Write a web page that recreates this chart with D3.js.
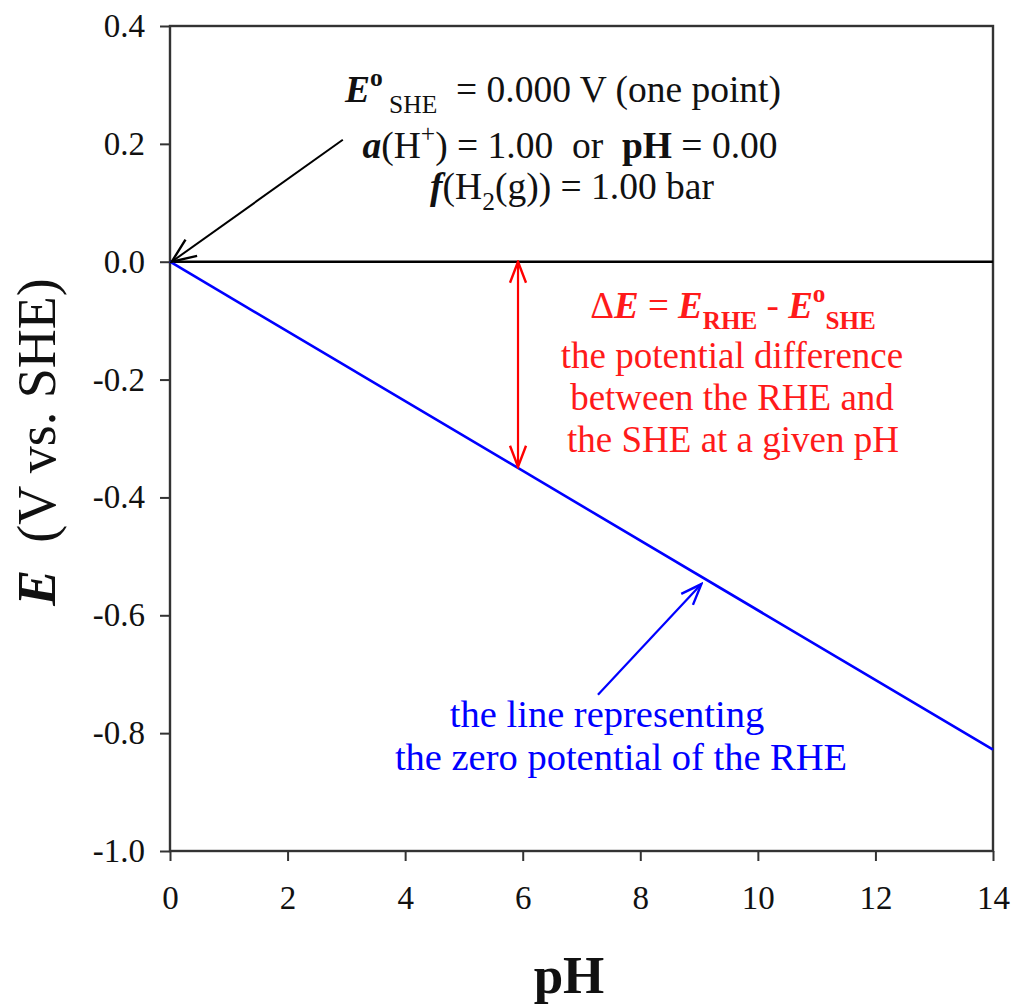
<!DOCTYPE html>
<html>
<head>
<meta charset="utf-8">
<script src="https://cdn.jsdelivr.net/npm/d3@7"></script>
<style>
  body { margin: 0; background: #fff; }
  text { font-family: "Liberation Serif", "Times New Roman", serif; white-space: pre; }
</style>
</head>
<body>
<svg id="chart" width="1015" height="1006"></svg>
<script>
// values
var phValues = [0, 14];
var rheValues = [0, -0.828];      // E of the RHE zero line (V vs SHE)
var sheValues = [0, 0];           // E of the SHE line
var xTicks = [0, 2, 4, 6, 8, 10, 12, 14];
var yTicks = [0.4, 0.2, 0.0, -0.2, -0.4, -0.6, -0.8, -1.0];
// annotation arrows in data units [pH, E]
var blackArrow = [[2.94, 0.207], [0.03, 0.0]];
var redArrow = [[5.92, 0.0], [5.92, -0.348]];
var blueArrow = [[7.28, -0.735], [9.04, -0.547]];

var margin = {left: 170, top: 26, right: 22, bottom: 155};
var W = 1015, H = 1006;
var svg = d3.select("#chart");

var x = d3.scaleLinear().domain([0, 14]).range([margin.left, W - margin.right]);
var y = d3.scaleLinear().domain([-1.0, 0.4]).range([H - margin.bottom, margin.top]);

var frame = "#333";

// arrow heads
var defs = svg.append("defs");
function head(id, color, len, half) {
    defs.append("marker")
        .attr("id", id)
        .attr("markerUnits", "userSpaceOnUse")
        .attr("viewBox", (-len - 2) + " " + (-half - 2) + " " + (len + 4) + " " + (2 * half + 4))
        .attr("refX", 0).attr("refY", 0)
        .attr("markerWidth", len + 4).attr("markerHeight", 2 * half + 4)
        .attr("orient", "auto-start-reverse")
        .append("path")
        .attr("d", "M" + (-len) + "," + (-half) + "L0,0L" + (-len) + "," + half)
        .attr("fill", "none").attr("stroke", color).attr("stroke-width", 2.4);
}
head("hBlack", "#000", 24, 10);
head("hRed", "#ff0000", 21, 8);
head("hBlue", "#0000ff", 21, 8);

// axes
var xAxis = d3.axisBottom(x).tickValues(xTicks).tickSize(10).tickPadding(25)
    .tickFormat(d3.format("d"));
var yAxis = d3.axisLeft(y).tickValues(yTicks).tickSize(10).tickPadding(15)
    .tickFormat(d3.format(".1f"));

var gx = svg.append("g").attr("transform", "translate(0," + y(-1.0) + ")").call(xAxis);
var gy = svg.append("g").attr("transform", "translate(" + x(0) + ",0)").call(yAxis);
[gx, gy].forEach(function (g) {
    g.attr("font-family", null);
    g.select(".domain").remove();
    g.selectAll(".tick line").attr("stroke", frame).attr("stroke-width", 2);
    g.selectAll(".tick text")
        .style("font-family", "'Liberation Serif', serif")
        .style("font-size", "33px").attr("fill", "#111");
});
gy.selectAll(".tick text").text(function (d) { return d3.format(".1f")(d).replace("−", "-"); });

// frame
svg.append("rect")
    .attr("x", x(0)).attr("y", y(0.4))
    .attr("width", x(14) - x(0)).attr("height", y(-1.0) - y(0.4))
    .attr("fill", "none").attr("stroke", frame).attr("stroke-width", 2.4);

// lines
var line = d3.line().x(function (d) { return x(d[0]); }).y(function (d) { return y(d[1]); });
svg.append("path").datum(d3.zip(phValues, sheValues)).attr("d", line)
    .attr("fill", "none").attr("stroke", "#000").attr("stroke-width", 2.5);
svg.append("path").datum(d3.zip(phValues, rheValues)).attr("d", line)
    .attr("fill", "none").attr("stroke", "#0000ff").attr("stroke-width", 2.6);

// annotation arrows
svg.append("path").datum(blackArrow).attr("d", line)
    .attr("stroke", "#000").attr("stroke-width", 2).attr("marker-end", "url(#hBlack)");
svg.append("path").datum(redArrow).attr("d", line)
    .attr("stroke", "#ff0000").attr("stroke-width", 2.2)
    .attr("marker-start", "url(#hRed)").attr("marker-end", "url(#hRed)");
svg.append("path").datum(blueArrow).attr("d", line)
    .attr("stroke", "#0000ff").attr("stroke-width", 2.2).attr("marker-end", "url(#hBlue)");

// rich text helper: parts are [text, style, shift] with shift "sup" / "sub"
function rich(px, py, size, color, parts) {
    var t = svg.append("text").attr("x", px).attr("y", py)
        .attr("text-anchor", "middle").attr("fill", color)
        .style("font-size", size + "px");
    var cur = 0;
    parts.forEach(function (p) {
        var target = p[2] === "sup" ? -0.42 * size : p[2] === "sub" ? 0.3 * size : 0;
        var s = t.append("tspan").text(p[0]).attr("dy", target - cur);
        cur = target;
        if (p[2]) s.style("font-size", (0.68 * size) + "px");
        if (p[1] && p[1].indexOf("b") >= 0) s.style("font-weight", "bold");
        if (p[1] && p[1].indexOf("i") >= 0) s.style("font-style", "italic");
    });
    return t;
}

// SHE annotation
rich(563, 102, 37.5, "#111", [["E", "bi"], ["o", "b", "sup"], [" SHE", "", "sub"], ["  = 0.000 V (one point)", ""]]);
rich(570, 158, 37.5, "#111", [["a", "bi"], ["(H", ""], ["+", "", "sup"], [") = 1.00  or  ", ""], ["pH", "b"], [" = 0.00", ""]]);
rich(572, 199, 37.5, "#111", [["f", "bi"], ["(H", ""], ["2", "", "sub"], ["(g)) = 1.00 bar", ""]]);

// delta E annotation
var red = "#ff1a1a";
rich(733, 318, 37, red, [["\u0394", ""], ["E", "bi"], [" = ", ""], ["E", "bi"], ["RHE", "b", "sub"], [" - ", ""], ["E", "bi"], ["o", "b", "sup"], ["SHE", "b", "sub"]]);
rich(732, 368, 37, red, [["the potential difference", ""]]);
rich(732, 410, 37, red, [["between the RHE and", ""]]);
rich(733, 452, 37, red, [["the SHE at a given pH", ""]]);

// RHE line annotation
rich(607, 727, 38.5, "#0000ff", [["the line representing", ""]]);
rich(621, 770, 38.5, "#0000ff", [["the zero potential of the RHE", ""]]);

// axis titles
svg.append("text").attr("x", 569).attr("y", 993).attr("text-anchor", "middle")
    .style("font-size", "53px").style("font-weight", "bold").attr("fill", "#111").text("pH");
var yt = svg.append("text").attr("transform", "translate(55,442) rotate(-90)")
    .attr("text-anchor", "middle").style("font-size", "54px").attr("fill", "#111");
yt.append("tspan").text("E").style("font-weight", "bold").style("font-style", "italic");
yt.append("tspan").text("  (V vs. SHE)");
</script>
</body>
</html>
